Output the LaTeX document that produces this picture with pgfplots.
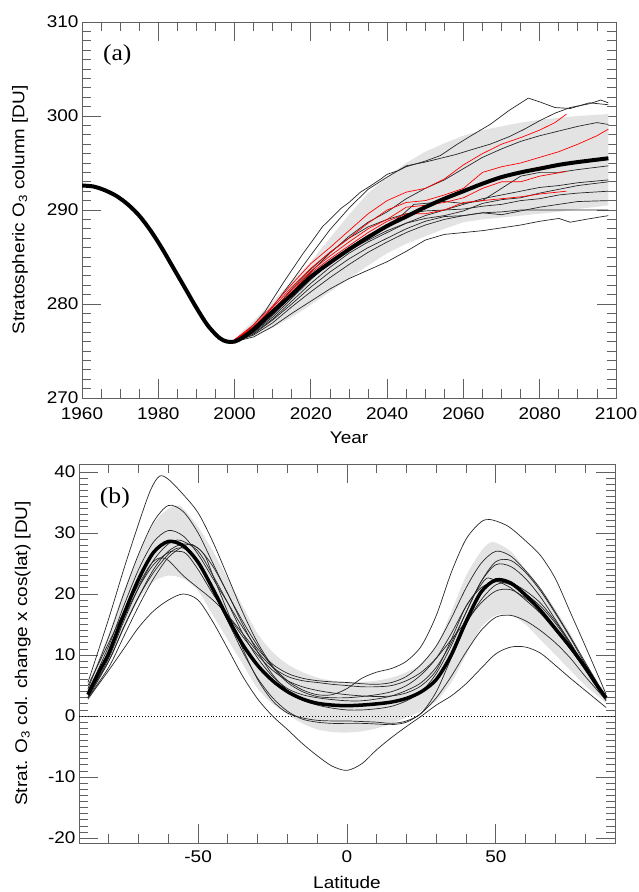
\documentclass[border=0pt]{standalone}
\usepackage{pgfplots}
\pgfplotsset{compat=1.18}
\usepackage{fontspec}
\setmainfont{Liberation Sans}[FakeStretch=1.12]
\newfontfamily\panelfont{Liberation Serif}[FakeStretch=1.12]
\begin{document}
\begin{tikzpicture}
\useasboundingbox (0bp,0bp) rectangle (639bp,892bp);
\pgfplotsset{
  myaxis/.style={
    scale only axis,
    axis line style={draw=gray!75!black, line width=0.8pt},
    every tick/.style={gray!75!black, line width=0.8pt},
    major tick length=19bp, minor tick length=9bp,
    tick align=inside,
    ticklabel style={font=\fontsize{17}{17}\selectfont},
    label style={font=\fontsize{17}{17}\selectfont},
    thinb/.style={black!85, line width=0.7pt},
    thinr/.style={red, line width=0.7pt},
  }
}
% ---------------- panel (a)
\begin{axis}[myaxis, at={(82bp,494bp)}, anchor=south west, width=534bp, height=376bp,
  xmin=1960, xmax=2100, ymin=270, ymax=310,
  xtick={1960,1980,2000,2020,2040,2060,2080,2100},
  xticklabels={1960,1980,2000,2020,2040,2060,2080,2100},
  minor x tick num=3,
  ytick={270,280,290,300,310}, yticklabels={270,280,290,300,310},
  minor y tick num=9,
  xticklabel style={yshift=-6bp},
  xlabel={Year}, ylabel={Stratospheric O\textsubscript{3} column [DU]},
  xlabel style={at={(axis description cs:0.5,-0.106)}, anchor=center},
  ylabel style={at={(axis description cs:-0.116,0.5)}, anchor=center},
]
\addplot[fill=gray!22, draw=none] coordinates {
(2000,276.3) (2005,278.2) (2010,280.3) (2015,282.4) (2020,284.5) (2025,287.0) (2030,289.5) (2035,291.8) (2040,293.5) (2045,295.0) (2050,296.2) (2055,297.1) (2060,297.9) (2065,298.5) (2070,298.9) (2075,299.3) (2080,299.6) (2085,299.8) (2090,300.0) (2098,300.2)
(2098,290.5) (2090,290.1) (2085,289.8) (2080,289.6) (2075,289.4) (2070,289.2) (2065,289.0) (2060,288.7) (2055,288.0) (2050,287.2) (2045,286.4) (2040,285.4) (2035,284.1) (2030,282.7) (2025,281.3) (2020,279.9) (2015,278.6) (2010,277.5) (2005,276.6) (2000,276.0)
} -- cycle;
% black model curves
\addplot[thinb] coordinates {(2000,276.0) (2003,277.0) (2005,277.8) (2008,279.2) (2010,280.5) (2013,282.4) (2015,283.6) (2018,285.4) (2020,286.5) (2023,288.2) (2025,289.0) (2028,290.2) (2030,290.8) (2033,291.9) (2035,292.4) (2038,293.2) (2040,293.8) (2043,294.2) (2045,294.6) (2050,295.2) (2054,295.8) (2058,296.9) (2062,297.9) (2067,299.1) (2072,300.6) (2077,301.9) (2080,301.5) (2084,300.9) (2088,300.8) (2093,301.4) (2098,301.2)};
\addplot[thinb] coordinates {(2000,276.0) (2005,277.4) (2010,279.7) (2015,282.4) (2020,285.2) (2025,287.9) (2030,290.2) (2035,292.2) (2040,293.5) (2045,294.7) (2050,295.1) (2054,295.5) (2058,295.9) (2062,296.4) (2067,297.0) (2072,297.8) (2076,298.6) (2080,299.5) (2084,300.3) (2088,300.9) (2093,301.3) (2096,301.7) (2098,301.4)};
\addplot[thinb] coordinates {(2000,276.0) (2005,277.1) (2010,278.9) (2015,281.2) (2020,283.4) (2025,285.4) (2030,287.2) (2035,288.7) (2040,289.8) (2045,291.2) (2050,292.3) (2055,293.2) (2060,294.4) (2065,295.6) (2070,296.5) (2075,297.3) (2080,297.9) (2085,298.4) (2090,298.9) (2095,299.3) (2098,299.1)};
\addplot[thinb] coordinates {(2000,276.0) (2005,277.0) (2010,278.6) (2015,280.6) (2020,282.6) (2025,284.4) (2030,286.0) (2035,287.3) (2040,288.3) (2044,289.5) (2047,290.6) (2050,290.7) (2055,290.9) (2060,290.7) (2065,291.0) (2070,292.3) (2075,293.6) (2080,294.0) (2085,294.0) (2090,294.3) (2098,294.7)};
\addplot[thinb] coordinates {(2000,276.0) (2005,276.9) (2010,278.4) (2015,280.3) (2020,282.2) (2025,283.9) (2030,285.4) (2035,286.6) (2040,287.6) (2045,288.6) (2050,289.4) (2055,290.0) (2060,290.6) (2065,291.2) (2070,291.6) (2075,292.0) (2080,292.4) (2085,292.6) (2090,292.9) (2098,293.2)};
\addplot[thinb] coordinates {(2000,276.0) (2005,276.8) (2010,278.3) (2015,280.0) (2020,281.8) (2025,283.4) (2030,284.8) (2035,286.0) (2040,287.0) (2045,288.0) (2050,288.8) (2055,289.3) (2060,289.4) (2065,289.7) (2070,289.5) (2075,289.9) (2080,290.3) (2085,290.6) (2090,290.9) (2098,291.0)};
\addplot[thinb] coordinates {(2000,276.0) (2005,276.7) (2010,278.0) (2015,279.7) (2020,281.3) (2025,282.8) (2030,284.2) (2035,285.5) (2040,286.6) (2045,287.6) (2050,288.4) (2055,289.0) (2060,289.4) (2065,289.7) (2070,289.8) (2075,290.0) (2080,290.0) (2085,290.0) (2090,290.0) (2098,290.0)};
\addplot[thinb] coordinates {(2000,276.0) (2005,276.5) (2010,277.6) (2015,279.0) (2020,280.3) (2025,281.6) (2030,282.7) (2035,283.6) (2040,284.5) (2045,285.6) (2050,286.8) (2055,287.4) (2060,287.6) (2065,287.8) (2070,288.1) (2075,288.4) (2080,288.8) (2085,289.1) (2088,288.7) (2092,289.0) (2098,289.4)};
\addplot[thinb] coordinates {(2000,276.0) (2005,277.0) (2010,278.8) (2015,280.8) (2020,282.8) (2025,284.4) (2030,285.7) (2035,286.8) (2040,287.8) (2045,288.6) (2050,289.1) (2055,289.4) (2060,289.9) (2065,290.7) (2070,291.1) (2075,291.3) (2080,291.8) (2085,292.2) (2090,292.6) (2098,293.0)};
\addplot[thinb] coordinates {(2000,276.0) (2005,277.3) (2010,279.3) (2015,281.6) (2020,283.7) (2025,285.5) (2030,287.0) (2035,288.2) (2040,289.0) (2045,289.6) (2050,289.9) (2055,290.0) (2060,290.1) (2065,290.4) (2070,290.6) (2075,291.0) (2080,291.2) (2085,291.6) (2090,291.8) (2098,292.0)};
% red model curves
\addplot[thinr] coordinates {(2000,276.2) (2005,277.8) (2010,279.8) (2015,282.1) (2020,284.3) (2025,286.0) (2030,287.8) (2035,289.6) (2040,291.0) (2045,291.9) (2050,292.3) (2055,293.3) (2060,294.8) (2065,296.0) (2070,297.0) (2075,297.7) (2080,298.5) (2084,299.3) (2087,300.2)};
\addplot[thinr] coordinates {(2000,276.2) (2005,277.6) (2010,279.6) (2015,281.8) (2020,283.8) (2025,285.5) (2030,287.0) (2035,288.6) (2040,290.0) (2045,290.8) (2050,291.0) (2055,291.6) (2060,292.3) (2065,294.0) (2070,294.6) (2075,295.0) (2080,295.6) (2085,296.2) (2090,297.0) (2095,297.9) (2098,298.6)};
\addplot[thinr] coordinates {(2000,276.2) (2005,277.5) (2010,279.3) (2015,281.5) (2020,283.5) (2025,285.1) (2030,286.6) (2035,288.0) (2040,289.0) (2045,290.3) (2050,290.5) (2055,290.8) (2060,291.3) (2065,292.3) (2070,293.0) (2075,293.0) (2080,293.6) (2087,294.1)};
\addplot[thinr] coordinates {(2000,276.2) (2005,277.4) (2010,279.2) (2015,281.3) (2020,283.3) (2025,284.8) (2030,286.2) (2035,287.6) (2040,288.8) (2045,289.6) (2050,289.6) (2055,290.0) (2060,290.8) (2065,291.0) (2070,291.2) (2075,291.4) (2080,291.7) (2087,292.0)};
% multi-model mean
\addplot[black, line width=4bp, smooth] coordinates {(1960,292.6) (1963,292.5) (1966,292.1) (1969,291.5) (1972,290.6) (1975,289.4) (1978,287.8) (1981,285.9) (1984,283.8) (1987,281.7) (1990,279.6) (1993,277.7) (1996,276.4) (1998,276.0) (2000,276.0) (2002,276.4) (2005,277.3) (2010,279.2) (2015,281.0) (2020,282.9) (2025,284.4) (2030,285.8) (2035,287.1) (2040,288.3) (2045,289.3) (2050,290.3) (2055,291.2) (2060,292.0) (2065,292.8) (2070,293.5) (2075,294.0) (2080,294.4) (2085,294.8) (2090,295.1) (2098,295.5)};
\node[font=\panelfont\fontsize{23}{23}\selectfont] at (axis description cs:0.066,0.912) {(a)};
\end{axis}
% ---------------- panel (b)
\begin{axis}[myaxis, at={(79bp,49bp)}, anchor=south west, width=536bp, height=379bp,
  xmin=-90, xmax=90, ymin=-20.8, ymax=41.3,
  xtick={-50,0,50}, xticklabels={-50,0,50},
  minor xtick={-80,-70,-60,-40,-30,-20,-10,10,20,30,40,60,70,80},
  ytick={-20,-10,0,10,20,30,40}, yticklabels={-20,-10,0,10,20,30,40},
  minor y tick num=9,
  xticklabel style={yshift=-4bp},
  xlabel={Latitude}, ylabel={Strat. O\textsubscript{3} col. change x cos(lat) [DU]},
  xlabel style={at={(axis description cs:0.5,-0.103)}, anchor=center},
  ylabel style={at={(axis description cs:-0.105,0.5)}, anchor=center},
]
\addplot[fill=gray!22, draw=none, smooth] coordinates {
(-87,5.0) (-85,7.5) (-80,13.5) (-75,20.5) (-70,26.5) (-65,31.5) (-60,34.0) (-57,34.5) (-55,34.0) (-50,31.0) (-45,27.0) (-40,22.5) (-35,18.0) (-30,13.5) (-25,10.5) (-20,8.5) (-15,7.2) (-10,6.3) (-5,5.8) (0,5.6) (5,5.6) (10,5.8) (15,6.3) (20,7.2) (25,8.5) (30,11.5) (35,17.0) (40,23.0) (45,27.0) (48,28.4) (50,28.4) (55,27.0) (60,24.0) (65,21.0) (70,17.5) (75,13.5) (80,9.0) (85,5.0) (87,3.8)
(87,2.2) (85,3.0) (80,5.0) (75,7.5) (70,10.0) (65,12.5) (60,15.0) (55,16.5) (50,16.5) (45,14.5) (40,10.0) (35,5.5) (30,2.5) (25,0.8) (20,-0.2) (15,-1.2) (10,-2.0) (5,-2.5) (0,-2.7) (-5,-2.6) (-10,-2.2) (-15,-1.2) (-20,0.3) (-25,2.0) (-30,4.5) (-35,8.5) (-40,12.5) (-45,16.5) (-50,20.5) (-55,22.5) (-60,23.0) (-65,22.0) (-70,19.0) (-75,14.0) (-80,9.0) (-85,4.0) (-87,2.5)
} -- cycle;
\addplot[black, dotted, line width=1pt] coordinates {(-90,0) (90,0)};
% model curves
\addplot[thinb, smooth] coordinates {(-87,2.8) (-80,7.5) (-75,11.0) (-70,14.5) (-65,17.2) (-60,19.0) (-55,20.0) (-50,19.0) (-45,15.4) (-40,11.0) (-35,6.5) (-30,2.8) (-25,0.0) (-20,-2.2) (-15,-4.5) (-10,-6.5) (-5,-8.2) (0,-8.9) (5,-7.8) (10,-5.5) (15,-3.5) (20,-1.7) (25,0.0) (30,1.8) (35,3.3) (40,5.3) (45,7.8) (50,10.2) (55,11.3) (60,11.3) (65,10.3) (70,8.3) (75,6.2) (80,4.2) (87,1.4)};
\addplot[thinb, smooth] coordinates {(-87,5.5) (-80,16.0) (-75,24.0) (-70,31.5) (-66,37.0) (-63,39.3) (-60,38.8) (-55,36.3) (-50,33.3) (-45,28.5) (-40,22.8) (-35,17.0) (-30,12.0) (-25,8.2) (-20,5.8) (-15,4.3) (-10,3.5) (-5,3.5) (0,4.5) (5,6.2) (10,7.2) (15,7.8) (20,9.0) (25,11.5) (30,16.5) (35,23.5) (40,29.0) (45,31.8) (48,32.2) (52,31.6) (55,30.8) (60,28.7) (65,26.3) (70,22.5) (75,17.0) (80,11.5) (87,3.6)};
\addplot[thinb, smooth] coordinates {(-87,4.5) (-80,13.0) (-75,20.0) (-70,26.5) (-65,31.8) (-60,34.5) (-55,33.5) (-50,30.0) (-45,25.0) (-40,20.0) (-35,15.5) (-30,11.5) (-25,8.0) (-20,5.5) (-15,4.0) (-10,3.2) (-5,3.0) (0,3.0) (5,3.2) (10,3.5) (15,4.0) (20,5.0) (25,6.8) (30,9.5) (35,13.5) (40,18.0) (45,21.5) (47,22.6) (50,22.2) (55,21.0) (60,19.0) (65,16.8) (70,14.0) (75,11.0) (80,7.8) (87,2.8)};
\addplot[thinb, smooth] coordinates {(-87,4.0) (-80,11.5) (-75,18.0) (-70,24.0) (-65,28.5) (-60,30.4) (-55,29.5) (-50,26.5) (-45,22.5) (-40,18.5) (-35,14.5) (-30,11.0) (-25,8.5) (-20,7.0) (-15,6.2) (-10,5.8) (-5,5.6) (0,5.5) (5,5.3) (10,5.2) (15,5.5) (20,6.5) (25,8.5) (30,11.5) (35,16.0) (40,21.0) (45,25.0) (50,27.0) (55,26.2) (60,23.8) (65,20.8) (70,17.0) (75,13.0) (80,8.8) (87,3.0)};
\addplot[thinb, smooth] coordinates {(-87,3.2) (-80,9.5) (-75,15.5) (-70,21.0) (-65,25.5) (-60,28.2) (-56,28.8) (-50,27.0) (-45,23.0) (-40,18.5) (-35,13.5) (-30,9.5) (-25,6.5) (-20,4.5) (-15,3.5) (-10,3.0) (-5,2.7) (0,2.5) (5,2.5) (10,2.8) (15,3.3) (20,4.2) (25,5.5) (30,8.0) (35,12.0) (40,17.0) (45,22.0) (50,25.3) (55,25.5) (60,23.5) (65,20.5) (70,16.8) (75,12.8) (80,8.5) (87,3.0)};
\addplot[thinb, smooth] coordinates {(-87,3.5) (-80,9.0) (-75,14.5) (-70,19.5) (-65,24.0) (-60,27.0) (-55,28.2) (-50,27.5) (-45,24.5) (-40,20.0) (-35,15.0) (-30,10.5) (-25,6.8) (-20,4.2) (-15,2.6) (-10,1.8) (-5,1.3) (0,1.0) (5,1.0) (10,1.2) (15,1.6) (20,2.5) (25,4.0) (30,7.0) (35,11.5) (40,17.0) (45,22.0) (50,24.8) (55,24.5) (60,22.5) (65,19.5) (70,15.8) (75,12.0) (80,8.0) (87,3.2)};
\addplot[thinb, smooth] coordinates {(-87,3.0) (-80,8.0) (-75,13.0) (-70,18.0) (-65,22.5) (-60,26.0) (-55,27.8) (-52,28.1) (-48,26.5) (-45,23.0) (-40,17.0) (-35,11.0) (-30,6.0) (-25,2.5) (-20,0.5) (-15,-0.3) (-10,-0.7) (-5,-0.8) (0,-0.8) (5,-0.9) (10,-1.0) (15,-1.2) (20,-0.8) (25,0.5) (30,4.0) (35,9.5) (40,15.0) (45,19.0) (50,21.5) (55,21.8) (60,20.5) (65,18.5) (70,15.5) (75,12.0) (80,8.0) (87,3.0)};
\addplot[thinb, smooth] coordinates {(-87,5.0) (-80,12.0) (-75,17.0) (-70,21.5) (-66,24.8) (-63,25.9) (-60,25.5) (-55,23.0) (-50,21.0) (-45,19.0) (-40,16.5) (-35,13.5) (-30,10.5) (-25,8.0) (-20,6.5) (-15,5.8) (-10,5.5) (-5,5.2) (0,5.0) (5,4.8) (10,4.8) (15,5.0) (20,5.8) (25,7.2) (30,9.5) (35,12.5) (40,15.5) (45,18.5) (50,20.5) (55,20.7) (60,19.3) (65,17.2) (70,14.3) (75,11.0) (80,7.5) (87,2.5)};
\addplot[thinb, smooth] coordinates {(-87,3.0) (-80,9.0) (-75,14.5) (-70,19.5) (-65,23.5) (-60,26.5) (-57,27.5) (-54,27.3) (-50,25.0) (-45,20.5) (-40,15.5) (-35,10.5) (-30,6.2) (-25,3.0) (-20,0.8) (-15,-0.5) (-10,-1.0) (-5,-1.2) (0,-1.2) (5,-1.2) (10,-1.3) (15,-1.4) (20,-1.0) (25,0.5) (30,3.0) (35,6.5) (40,10.5) (45,14.0) (50,16.2) (55,16.5) (60,15.6) (65,14.0) (70,12.0) (75,9.5) (80,6.5) (87,2.6)};
\addplot[thinb, smooth] coordinates {(-87,4.2) (-80,10.5) (-75,16.0) (-70,21.0) (-65,24.8) (-60,26.8) (-57,27.0) (-54,26.6) (-50,24.0) (-45,20.0) (-40,16.5) (-35,13.0) (-30,10.0) (-25,7.5) (-20,5.8) (-15,4.8) (-10,4.2) (-5,3.8) (0,3.5) (5,3.3) (10,3.2) (15,3.3) (20,3.8) (25,5.0) (30,7.5) (35,12.5) (40,18.0) (45,21.0) (50,22.0) (55,21.5) (60,20.0) (65,18.0) (70,15.2) (75,11.8) (80,8.0) (87,3.0)};
% multi-model mean
\addplot[black, line width=3.5bp, smooth] coordinates {(-87,3.5) (-83,7.5) (-80,10.3) (-75,16.6) (-70,22.4) (-65,26.8) (-60,28.6) (-55,27.9) (-50,25.2) (-45,20.8) (-40,16.0) (-35,11.7) (-30,8.3) (-25,5.8) (-20,4.0) (-15,2.8) (-10,2.1) (-5,1.8) (0,1.7) (5,1.8) (10,2.0) (15,2.3) (20,2.9) (25,4.0) (30,6.0) (35,10.0) (40,15.5) (45,20.3) (50,22.3) (55,21.8) (60,19.8) (65,17.3) (70,14.3) (75,11.3) (80,8.0) (84,5.0) (87,3.0)};
\node[font=\panelfont\fontsize{23}{23}\selectfont] at (axis description cs:0.067,0.910) {(b)};
\end{axis}
\end{tikzpicture}
\end{document}
